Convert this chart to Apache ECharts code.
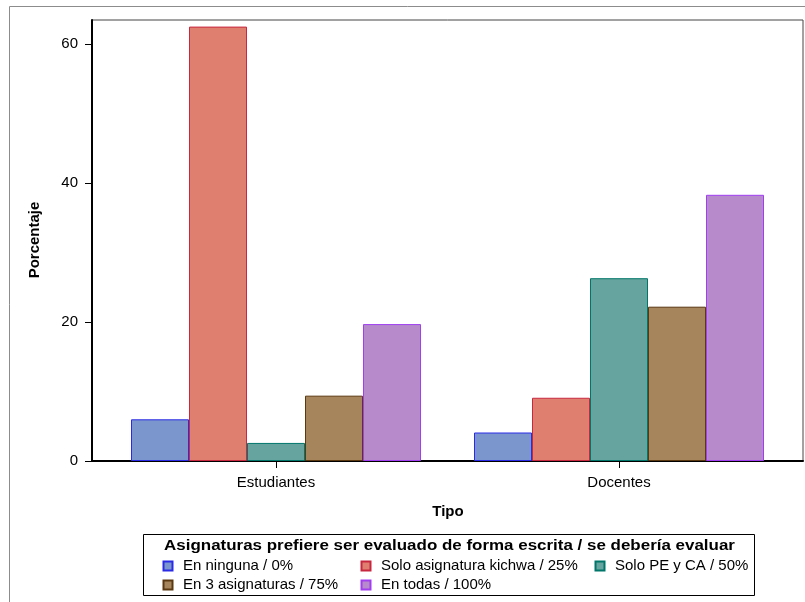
<!DOCTYPE html>
<html>
<head>
<meta charset="utf-8">
<script src="https://cdn.jsdelivr.net/npm/echarts@6/dist/echarts.min.js"></script>
<style>
  html, body { margin: 0; padding: 0; background: #fff; }
  #chart { width: 805px; height: 602px; }
</style>
</head>
<body>
<div id="chart"></div>
<script>
// Categories on the x axis
const categories = ['Estudiantes', 'Docentes'];

// Percentages per answer group (Estudiantes, Docentes)
const enNinguna = [6.0, 4.1];
const soloKichwa = [62.5, 9.1];
const soloPeCa = [2.6, 26.3];
const en3Asignaturas = [9.4, 22.2];
const enTodas = [19.7, 38.3];

const seriesNames = [
  'En ninguna / 0%',
  'Solo asignatura kichwa / 25%',
  'Solo PE y CA / 50%',
  'En 3 asignaturas / 75%',
  'En todas / 100%'
];
const seriesValues = [enNinguna, soloKichwa, soloPeCa, en3Asignaturas, enTodas];

const yTicks = [0, 20, 40, 60];

const fills = ['#7b96cc', '#df7f6f', '#66a59f', '#a6855c', '#b68acb'];
const strokes = ['#2b2be6', '#c8283f', '#00756a', '#5b3810', '#a13ff0'];

const FONT = '"Liberation Sans", Arial, Helvetica, sans-serif';
const Y_MAX = 63.45;

const chart = echarts.init(document.getElementById('chart'), null, { renderer: 'canvas' });

const series = seriesNames.map((name, i) => ({
  name: name,
  type: 'bar',
  xAxisIndex: 1,
  yAxisIndex: 1,
  barWidth: 58,
  barGap: '0%',
  data: seriesValues[i],
  itemStyle: { color: fills[i], borderColor: strokes[i], borderWidth: 1 },
  emphasis: { disabled: true },
  animation: false
}));

const squareIcon = 'path://M0,0H10V10H0Z';

function legendAt(names, left, top) {
  return {
    data: names,
    orient: 'vertical',
    left: left,
    top: top,
    padding: 0,
    itemGap: 3,
    itemWidth: 20,
    itemHeight: 9,
    icon: squareIcon,
    selectedMode: false,
    textStyle: { fontFamily: FONT, fontSize: 15, color: '#000', lineHeight: 16, padding: [0, 0, 0, 0] }
  };
}

chart.setOption({
  backgroundColor: '#fff',
  animation: false,
  grid: [
    { left: 92, right: 2, top: 20, bottom: 141, show: true, borderColor: '#444', borderWidth: 1, backgroundColor: 'transparent' },
    { left: 104.5, right: 14.5, top: 20, bottom: 141 }
  ],
  xAxis: [
    {
      gridIndex: 0, type: 'value', min: 0, max: 1,
      axisLine: { show: true, onZero: false, lineStyle: { color: '#000', width: 2 } },
      axisTick: { show: false }, axisLabel: { show: false }, splitLine: { show: false }
    },
    {
      gridIndex: 1, type: 'category', data: categories,
      axisLine: { show: false },
      axisTick: { show: true, alignWithLabel: true, length: 7, lineStyle: { color: '#000', width: 1 } },
      axisLabel: { fontFamily: FONT, fontSize: 15, color: '#000', margin: 14 },
      splitLine: { show: false }
    }
  ],
  yAxis: [
    {
      gridIndex: 0, type: 'value', min: 0, max: Y_MAX,
      axisLine: { show: true, onZero: false, lineStyle: { color: '#000', width: 2 } },
      axisTick: { show: true, length: 7, customValues: yTicks, lineStyle: { color: '#000', width: 1 } },
      axisLabel: { customValues: yTicks, fontFamily: FONT, fontSize: 15, color: '#000', margin: 14 },
      splitLine: { show: false }
    },
    {
      gridIndex: 1, type: 'value', min: 0, max: Y_MAX, show: false, splitLine: { show: false }
    }
  ],
  legend: [
    legendAt([seriesNames[0], seriesNames[3]], 162.5, 558),
    legendAt([seriesNames[1]], 360.5, 558),
    legendAt([seriesNames[4]], 360.5, 577),
    legendAt([seriesNames[2]], 594.5, 558)
  ],
  series: series,
  graphic: [
    {
      type: 'rect', silent: true, z: -10,
      shape: { x: 9.5, y: 6.5, width: 900, height: 700 },
      style: { fill: 'none', stroke: '#8c8c8c', lineWidth: 1 }
    },
    {
      type: 'text', silent: true,
      x: 35, y: 240, rotation: Math.PI / 2,
      style: { text: 'Porcentaje', fontFamily: FONT, fontSize: 15, fontWeight: 'bold', fill: '#000', align: 'center', verticalAlign: 'middle' }
    },
    {
      type: 'text', silent: true,
      x: 448, y: 512,
      style: { text: 'Tipo', fontFamily: FONT, fontSize: 15, fontWeight: 'bold', fill: '#000', align: 'center', verticalAlign: 'middle' }
    },
    {
      type: 'rect', silent: true,
      shape: { x: 143.5, y: 534.5, width: 611, height: 61 },
      style: { fill: 'none', stroke: '#000', lineWidth: 1 }
    },
    {
      type: 'text', silent: true,
      x: 449.5, y: 545.5, scaleX: 1.13,
      style: { text: 'Asignaturas prefiere ser evaluado de forma escrita / se debería evaluar', fontFamily: FONT, fontSize: 15, fontWeight: 'bold', fill: '#000', align: 'center', verticalAlign: 'middle' }
    }
  ]
});
</script>
</body>
</html>
